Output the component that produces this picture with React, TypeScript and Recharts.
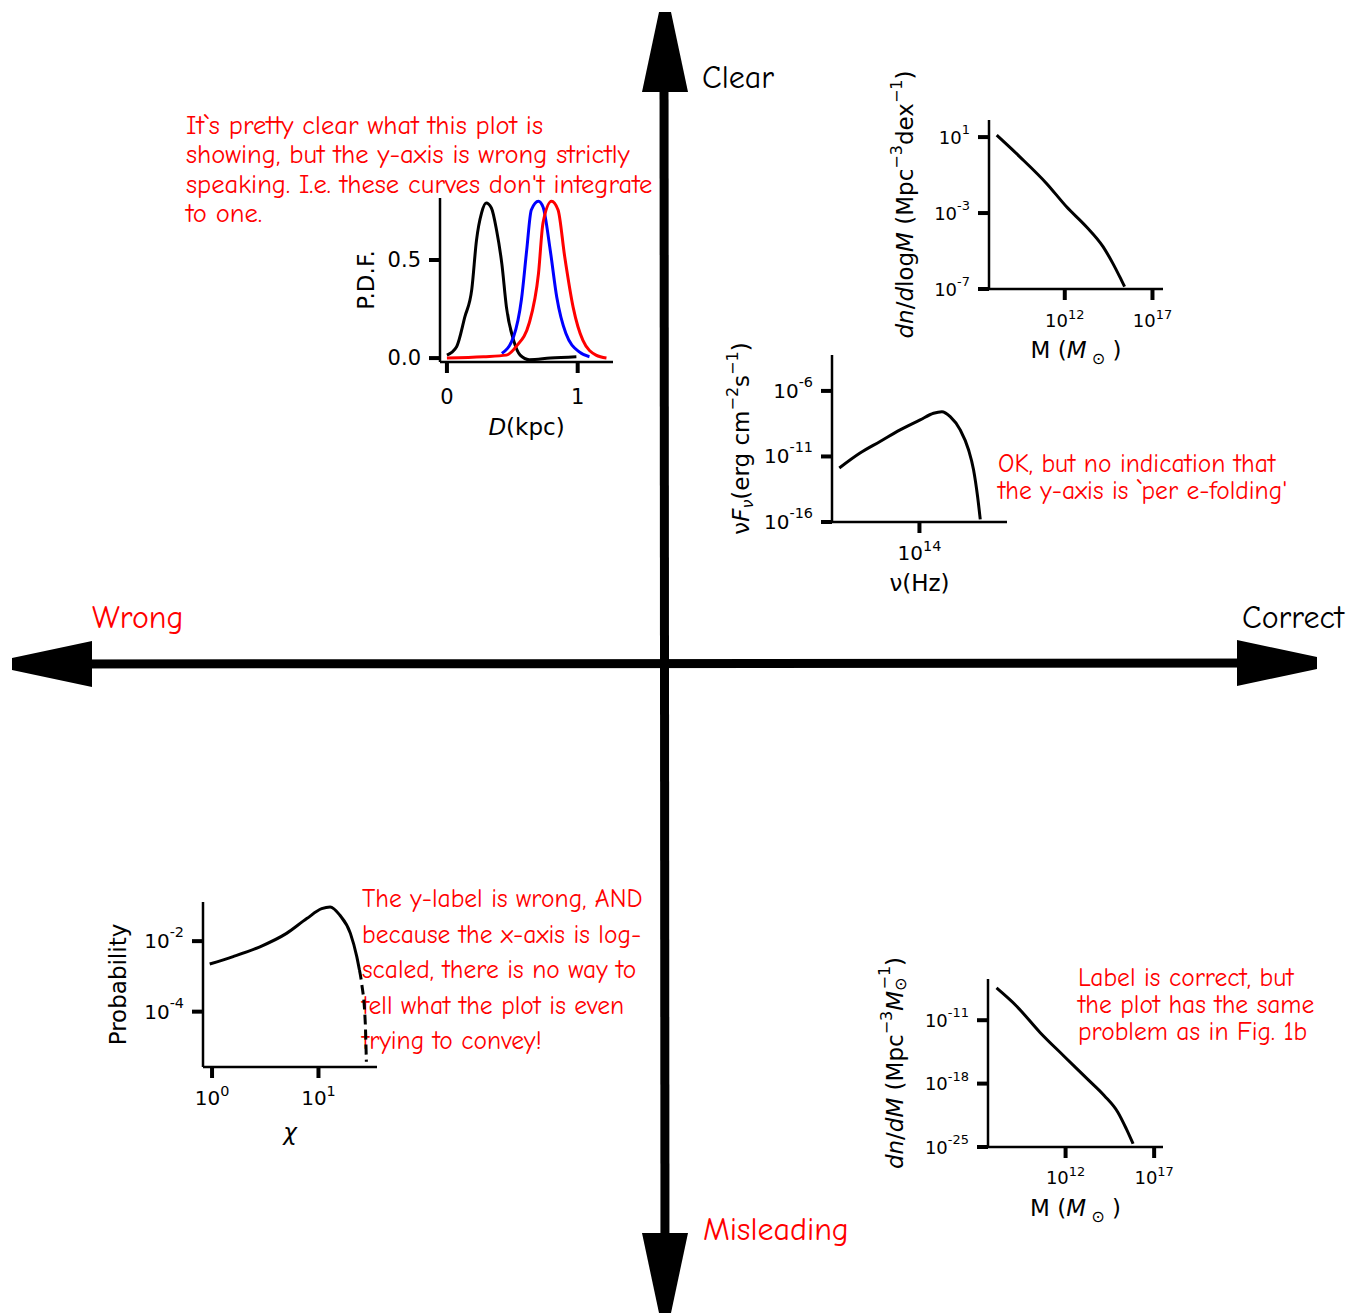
import * as React from 'react';
import { ComposedChart, LineChart, Line, Scatter, XAxis, YAxis, Label } from 'recharts';

// ---- quadrant cross (page coordinates) ----
const crossShafts = [
  { name: 'horizontal', data: [{ x: 60, y: 664 }, { x: 1280, y: 663 }] },
  { name: 'vertical', data: [{ x: 664, y: 60 }, { x: 665, y: 1270 }] },
];
const arrowTips = [
  { dir: 'up', x: 665, y: 12 },
  { dir: 'down', x: 665, y: 1313 },
  { dir: 'left', x: 12, y: 664 },
  { dir: 'right', x: 1317, y: 663 },
];

// ---- Fig A: P.D.F. vs D(kpc) ----
const pdfBlack = [
  { x: 0.0, y: 0.015 }, { x: 0.074, y: 0.058 }, { x: 0.137, y: 0.21 }, { x: 0.19, y: 0.35 },
  { x: 0.226, y: 0.6 }, { x: 0.265, y: 0.74 }, { x: 0.3, y: 0.79 }, { x: 0.34, y: 0.765 },
  { x: 0.38, y: 0.65 }, { x: 0.42, y: 0.48 }, { x: 0.455, y: 0.26 }, { x: 0.51, y: 0.09 },
  { x: 0.56, y: 0.015 }, { x: 0.63, y: -0.008 }, { x: 0.79, y: 0.0 }, { x: 0.99, y: 0.007 },
];
const pdfBlue = [
  { x: 0.42, y: 0.024 }, { x: 0.51, y: 0.11 }, { x: 0.57, y: 0.3 }, { x: 0.61, y: 0.55 },
  { x: 0.645, y: 0.755 }, { x: 0.7, y: 0.8 }, { x: 0.735, y: 0.77 }, { x: 0.79, y: 0.55 },
  { x: 0.84, y: 0.31 }, { x: 0.91, y: 0.125 }, { x: 1.015, y: 0.03 }, { x: 1.09, y: 0.007 },
];
const pdfRed = [
  { x: 0.0, y: 0.0 }, { x: 0.28, y: 0.007 }, { x: 0.455, y: 0.015 }, { x: 0.53, y: 0.06 },
  { x: 0.63, y: 0.18 }, { x: 0.7, y: 0.43 }, { x: 0.735, y: 0.69 }, { x: 0.8, y: 0.8 },
  { x: 0.85, y: 0.755 }, { x: 0.9, y: 0.52 }, { x: 0.965, y: 0.26 }, { x: 1.04, y: 0.09 },
  { x: 1.14, y: 0.015 }, { x: 1.22, y: 0.0 },
];
const pdfXTicks = [0, 1];
const pdfYTicks = [0, 0.5];

// ---- Fig B: dn/dlogM (log10 values) ----
const hmfLog = [
  { x: 8.12, y: 1.1 }, { x: 9.44, y: -0.04 }, { x: 10.96, y: -1.44 }, { x: 12.1, y: -2.67 },
  { x: 13.23, y: -3.72 }, { x: 14.18, y: -4.77 }, { x: 14.74, y: -5.65 }, { x: 15.13, y: -6.35 },
  { x: 15.41, y: -6.88 },
];
const hmfLogXTicks = [12, 17];
const hmfLogYTicks = [1, -3, -7];

// ---- Fig C: nu F_nu (log10 values) ----
const sed = [
  { x: 6.0, y: -11.88 }, { x: 8.07, y: -10.74 }, { x: 10.07, y: -9.86 }, { x: 12.07, y: -8.97 },
  { x: 14.07, y: -8.21 }, { x: 15.4, y: -7.7 }, { x: 16.24, y: -7.58 }, { x: 17.07, y: -7.96 },
  { x: 18.07, y: -8.97 }, { x: 18.9, y: -10.49 }, { x: 19.4, y: -12.01 }, { x: 19.8, y: -14.04 },
  { x: 20.07, y: -15.8 },
];
const sedXTicks = [14];
const sedYTicks = [-6, -11, -16];

// ---- Fig D: Probability vs chi (log10 values) ----
const probSolid = [
  { x: -0.022, y: -2.65 }, { x: 0.198, y: -2.44 }, { x: 0.45, y: -2.16 }, { x: 0.7, y: -1.78 },
  { x: 0.89, y: -1.36 }, { x: 1.03, y: -1.08 }, { x: 1.11, y: -1.03 }, { x: 1.2, y: -1.26 },
  { x: 1.3, y: -1.78 }, { x: 1.36, y: -2.44 }, { x: 1.385, y: -2.82 },
];
const probDashed = [
  { x: 1.385, y: -2.82 }, { x: 1.406, y: -3.2 }, { x: 1.44, y: -4.33 }, { x: 1.45, y: -5.42 },
];
const probXTicks = [0, 1];
const probYTicks = [-2, -4];

// ---- Fig E: dn/dM (log10 values) ----
const hmfDM = [
  { x: 8.1, y: -7.44 }, { x: 9.24, y: -9.46 }, { x: 10.57, y: -12.38 }, { x: 11.9, y: -14.95 },
  { x: 13.24, y: -17.51 }, { x: 14.19, y: -19.34 }, { x: 14.95, y: -21.16 }, { x: 15.43, y: -23.0 },
  { x: 15.81, y: -24.64 },
];
const hmfDMXTicks = [12, 17];
const hmfDMYTicks = [-11, -18, -25];

const AXF = '"DejaVu Sans", sans-serif';
const HANDF = '"Comic Sans MS", "Comic Neue", "Open Sans", sans-serif';
const AX = 130;
const AXH = 90;
const TOPPAD = 90;
const PAD = 12;
const TF = 23; // axis title font size

const minus = (v: number) => (v < 0 ? '-' + Math.abs(v) : String(v));
const pow = (fs: number) => (v: number) => (
  <>
    10<tspan dy={-0.45 * fs} fontSize={fs * 0.72}>{minus(v)}</tspan>
  </>
);

type Pt = { x: number; y: number };
type Curve = { name: string; data: Pt[]; color: string; dash?: string };

interface MiniProps {
  L: number; T: number; W: number; H: number;
  xDomain: [number, number]; yDomain: [number, number];
  xTicks: number[]; yTicks: number[];
  xFmt: (v: number) => React.ReactNode;
  yFmt: (v: number) => React.ReactNode;
  curves: Curve[];
  fs: number;
  xTickDy?: number;
  yTitle: React.ReactNode; yTitleOff: number;
  xTitle: React.ReactNode; xTitleOff: number;
}

const MiniChart: React.FC<MiniProps> = (p) => {
  const width = AX + p.W + PAD;
  const height = TOPPAD + p.H + AXH;
  const YTick = (t: any) => (
    <text x={t.x} y={t.y} textAnchor="end" dominantBaseline="central" fontSize={p.fs} fontFamily={AXF} fill="#000">
      {p.yFmt(t.payload.value)}
    </text>
  );
  const XTick = (t: any) => (
    <text x={t.x} y={t.y + (p.xTickDy ?? 25)} textAnchor="middle" fontSize={p.fs} fontFamily={AXF} fill="#000">
      {p.xFmt(t.payload.value)}
    </text>
  );
  return (
    <div style={{ position: 'absolute', left: p.L - AX, top: p.T - TOPPAD }}>
      <LineChart width={width} height={height} margin={{ top: TOPPAD, right: PAD, left: 0, bottom: 0 }}>
        <XAxis dataKey="x" type="number" domain={p.xDomain} allowDataOverflow ticks={p.xTicks} height={AXH}
          axisLine={{ stroke: '#000', strokeWidth: 2.5 }} tickLine={{ stroke: '#000', strokeWidth: 4 }} tickSize={11} tick={XTick}>
          <Label content={() => (
            <text x={AX + p.W / 2} y={TOPPAD + p.H + p.xTitleOff} textAnchor="middle" fontSize={TF} fontFamily={AXF} fill="#000">
              {p.xTitle}
            </text>
          )} />
        </XAxis>
        <YAxis type="number" domain={p.yDomain} allowDataOverflow ticks={p.yTicks} width={AX}
          axisLine={{ stroke: '#000', strokeWidth: 2.5 }} tickLine={{ stroke: '#000', strokeWidth: 4 }} tickSize={11} tickMargin={8} tick={YTick}>
          <Label content={() => {
            const cx = AX - p.yTitleOff;
            const cy = TOPPAD + p.H / 2;
            return (
              <text x={cx} y={cy} transform={`rotate(-90, ${cx}, ${cy})`} textAnchor="middle" dominantBaseline="central"
                fontSize={TF} fontFamily={AXF} fill="#000">
                {p.yTitle}
              </text>
            );
          }} />
        </YAxis>
        {p.curves.map((c) => (
          <Line key={c.name} data={c.data} dataKey="y" name={c.name} type="monotone" stroke={c.color} strokeWidth={3}
            strokeDasharray={c.dash} dot={false} activeDot={false} isAnimationActive={false} />
        ))}
      </LineChart>
    </div>
  );
};

const ArrowHead = (props: any) => {
  const { cx, cy, payload } = props;
  const len = 80, half = 23, tip = 6;
  let pts: number[][] = [];
  if (payload.dir === 'up') pts = [[cx - tip, cy], [cx + tip, cy], [cx + half, cy + len], [cx - half, cy + len]];
  if (payload.dir === 'down') pts = [[cx - tip, cy], [cx + tip, cy], [cx + half, cy - len], [cx - half, cy - len]];
  if (payload.dir === 'left') pts = [[cx, cy - tip], [cx, cy + tip], [cx + len, cy + half], [cx + len, cy - half]];
  if (payload.dir === 'right') pts = [[cx, cy - tip], [cx, cy + tip], [cx - len, cy + half], [cx - len, cy - half]];
  return <polygon points={pts.map((q) => q.join(',')).join(' ')} fill="#000" />;
};

const Note: React.FC<{ x: number; y: number; lh: number; color?: string; size?: number; lines: string[] }> = ({ x, y, lh, color = '#ff0000', size = 25.5, lines }) => (
  <div style={{ position: 'absolute', left: x, top: y, fontFamily: HANDF, fontSize: size, lineHeight: `${lh}px`, color, whiteSpace: 'pre' }}>
    {lines.join('\n')}
  </div>
);

const S = 16; // superscript size in titles
const sun = () => <tspan dy={6} fontSize={S}> ⊙</tspan>;

export default function App() {
  return (
    <div style={{ position: 'absolute', left: 0, top: 0, width: 1367, height: 1313, background: '#fff', overflow: 'hidden' }}>
      <div style={{ position: 'absolute', left: 0, top: 0 }}>
        <ComposedChart width={1367} height={1313} margin={{ top: 0, right: 0, bottom: 0, left: 0 }}>
          <XAxis dataKey="x" type="number" domain={[0, 1367]} allowDataOverflow hide />
          <YAxis type="number" domain={[0, 1313]} reversed allowDataOverflow hide />
          {crossShafts.map((s) => (
            <Line key={s.name} data={s.data} dataKey="y" stroke="#000" strokeWidth={9} dot={false} activeDot={false} isAnimationActive={false} />
          ))}
          <Scatter data={arrowTips} dataKey="y" shape={ArrowHead} isAnimationActive={false} />
        </ComposedChart>
      </div>

      <Note x={702} y={60} lh={36} color="#000" size={32} lines={['Clear']} />
      <Note x={92} y={600} lh={36} size={32} lines={['Wrong']} />
      <Note x={1242} y={600} lh={36} color="#000" size={32} lines={['Correct']} />
      <Note x={703} y={1212} lh={36} size={32} lines={['Misleading']} />

      <Note x={186} y={111} lh={29.3} size={26.6} lines={[
        'It`s pretty clear what this plot is',
        'showing, but the y-axis is wrong strictly',
        "speaking. I.e. these curves don't integrate",
        'to one.',
      ]} />
      <Note x={998} y={450} lh={27} lines={['OK, but no indication that', "the y-axis is `per e-folding'"]} />
      <Note x={362} y={881} lh={35.5} lines={[
        'The y-label is wrong, AND',
        'because the x-axis is log-',
        'scaled, there is no way to',
        'tell what the plot is even',
        'trying to convey!',
      ]} />
      <Note x={1078} y={964} lh={27} lines={['Label is correct, but', 'the plot has the same', 'problem as in Fig. 1b']} />

      <MiniChart L={440} T={198} W={173} H={164} xDomain={[-0.053, 1.27]} yDomain={[-0.02, 0.816]}
        xTicks={pdfXTicks} yTicks={pdfYTicks} xFmt={(v) => String(v)} yFmt={(v) => v.toFixed(1)} fs={21} xTickDy={29}
        curves={[
          { name: 'black', data: pdfBlack, color: '#000' },
          { name: 'blue', data: pdfBlue, color: '#0000ff' },
          { name: 'red', data: pdfRed, color: '#ff0000' },
        ]}
        yTitle="P.D.F." yTitleOff={74}
        xTitle={<><tspan fontStyle="italic">D</tspan>(kpc)</>} xTitleOff={73} />

      <MiniChart L={989} T={120} W={174} H={169} xDomain={[7.68, 17.6]} yDomain={[-7, 1.9]}
        xTicks={hmfLogXTicks} yTicks={hmfLogYTicks} xFmt={pow(18)} yFmt={pow(18)} fs={18}
        curves={[{ name: 'hmf', data: hmfLog, color: '#000' }]}
        yTitle={<><tspan fontStyle="italic">dn</tspan>/<tspan fontStyle="italic">d</tspan>log<tspan fontStyle="italic">M</tspan> (Mpc<tspan dy={-9} fontSize={S}>−3</tspan><tspan dy={9}>dex</tspan><tspan dy={-9} fontSize={S}>−1</tspan><tspan dy={9}>)</tspan></>}
        yTitleOff={84}
        xTitle={<>M (<tspan fontStyle="italic">M</tspan>{sun()}<tspan dy={-6}> )</tspan></>} xTitleOff={69} />

      <MiniChart L={832} T={355} W={175} H={167} xDomain={[5.27, 22.74]} yDomain={[-16, -3.26]}
        xTicks={sedXTicks} yTicks={sedYTicks} xFmt={pow(20)} yFmt={pow(20)} fs={20}
        curves={[{ name: 'sed', data: sed, color: '#000' }]}
        yTitle={<>ν<tspan fontStyle="italic">F</tspan><tspan dy={6} fontSize={S} fontStyle="italic">ν</tspan><tspan dy={-6}>(erg cm</tspan><tspan dy={-9} fontSize={S}>−2</tspan><tspan dy={9}>s</tspan><tspan dy={-9} fontSize={S}>−1</tspan><tspan dy={9}>)</tspan></>}
        yTitleOff={91}
        xTitle={<>ν(Hz)</>} xTitleOff={69} />

      <MiniChart L={203} T={902} W={174} H={165} xDomain={[-0.085, 1.55]} yDomain={[-5.57, -0.89]}
        xTicks={probXTicks} yTicks={probYTicks} xFmt={pow(20)} yFmt={pow(20)} fs={20}
        curves={[
          { name: 'prob', data: probSolid, color: '#000' },
          { name: 'probTail', data: probDashed, color: '#000', dash: '10 5' },
        ]}
        yTitle="Probability" yTitleOff={85}
        xTitle={<tspan fontStyle="italic">χ</tspan>} xTitleOff={73} />

      <MiniChart L={988} T={979} W={175} H={168} xDomain={[7.62, 17.5]} yDomain={[-25, -6.45]}
        xTicks={hmfDMXTicks} yTicks={hmfDMYTicks} xFmt={pow(18)} yFmt={pow(18)} fs={18} xTickDy={24}
        curves={[{ name: 'dndm', data: hmfDM, color: '#000' }]}
        yTitle={<><tspan fontStyle="italic">dn</tspan>/<tspan fontStyle="italic">dM</tspan> (Mpc<tspan dy={-9} fontSize={S}>−3</tspan><tspan dy={9} fontStyle="italic">M</tspan><tspan dy={5} fontSize={S}>⊙</tspan><tspan dy={-16} dx={-12} fontSize={S}>−1</tspan><tspan dy={11}>)</tspan></>}
        yTitleOff={93}
        xTitle={<>M (<tspan fontStyle="italic">M</tspan>{sun()}<tspan dy={-6}> )</tspan></>} xTitleOff={69} />
    </div>
  );
}
